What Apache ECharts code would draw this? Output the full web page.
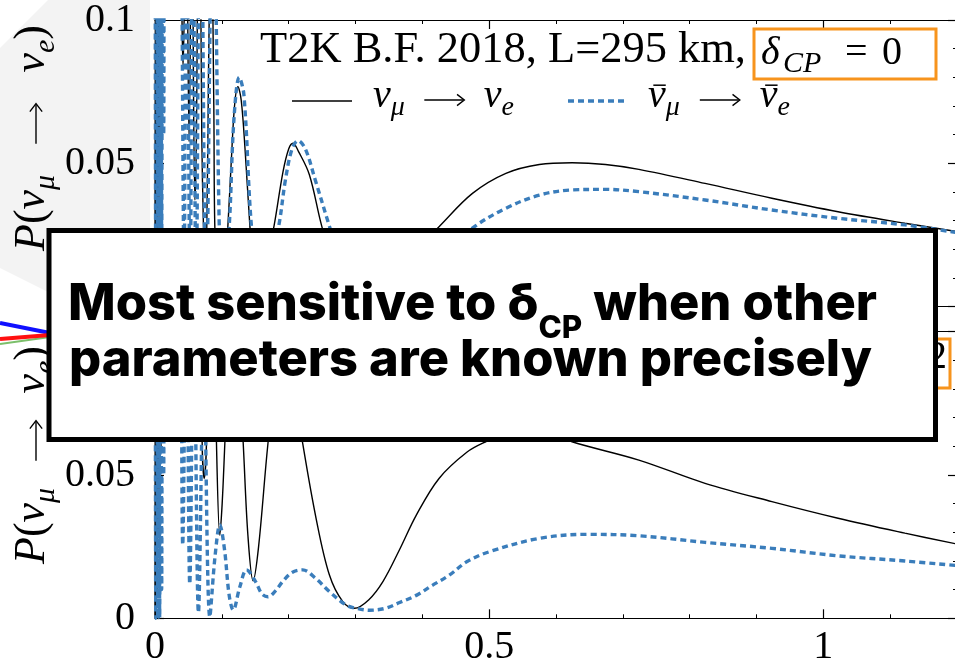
<!DOCTYPE html>
<html><head><meta charset="utf-8">
<script src="https://cdn.jsdelivr.net/npm/echarts@6/dist/echarts.min.js"></script>
<style>html,body{margin:0;padding:0;background:#fff}#c{width:955px;height:670px}</style>
</head><body><div id="c"></div>
<script>
// ---------- data ----------
const X_MIN = 0, X_MAX = 1.2;
const Y_MIN = 0, Y_MAX = 0.1;
const X_TICK_LABELS = {0: '0', 0.5: '0.5', 1: '1'};
const Y_TICK_LABELS = {0: '0', 0.05: '0.05', 0.1: '0.1'};

// top panel, delta_CP = 0, nu_mu -> nu_e (solid black)
const TOP_NU = [[0,0.00],[0.0015,0.20],[0.003,0.00],[0.0045,0.20],[0.006,0.02],[0.0075,0.20],[0.009,0.05],[0.0105,0.22],[0.012,0.10],[0.014,0.25],[0.018,0.15],[0.022,0.30],[0.026,0.16],[0.030,0.28],[0.034,0.14],[0.038,0.22],[0.040,0.11],[0.042,0.0837],[0.044,0.11],[0.0465,0.20],[0.049,0.10],[0.051,0.0575],[0.053,0.10],[0.055,0.19],[0.0575,0.08],[0.0597,0.0372],[0.062,0.06],[0.066,0.18],[0.070,0.06],[0.0725,0.028],[0.0745,0.016],[0.0775,0.028],[0.080,0.08],[0.084,0.14],[0.088,0.07],[0.0895,0.028],[0.094,0.008],[0.099,0.004],[0.104,0.012],[0.109,0.028],[0.114,0.05],[0.119,0.07],[0.124,0.0767],[0.129,0.072],[0.135,0.054],[0.142,0.028],[0.148,0.010],[0.155,0.003],[0.163,0.010],[0.172,0.022],[0.178,0.028],[0.1915,0.047],[0.200,0.055],[0.2065,0.057],[0.215,0.054],[0.231,0.046],[0.249,0.0285],[0.270,0.012],[0.290,0.004],[0.310,0.002],[0.330,0.004],[0.360,0.011],[0.400,0.022],[0.425,0.0279],[0.475,0.0395],[0.525,0.0465],[0.575,0.0496],[0.624,0.0502],[0.674,0.0496],[0.724,0.0479],[0.823,0.0430],[0.923,0.0378],[1.022,0.0331],[1.122,0.0291],[1.200,0.0262]];
// top panel, delta_CP = 0, anti-nu (dotted blue)
const TOP_NUBAR = [[0,0.20],[0.0012,0.0],[0.0025,0.20],[0.004,0.0],[0.0055,0.20],[0.007,0.0],[0.0085,0.18],[0.010,0.02],[0.0115,0.20],[0.013,0.06],[0.015,0.25],[0.020,0.16],[0.025,0.30],[0.030,0.15],[0.035,0.26],[0.040,0.12],[0.0435,0.012],[0.047,0.15],[0.0525,0.006],[0.0565,0.16],[0.0615,0.004],[0.068,0.18],[0.0765,0.003],[0.087,0.15],[0.101,0.002],[0.111,0.028],[0.118,0.065],[0.126,0.0800],[0.133,0.074],[0.1443,0.028],[0.158,0.002],[0.170,0.014],[0.185,0.028],[0.195,0.044],[0.205,0.055],[0.214,0.0579],[0.225,0.055],[0.240,0.044],[0.261,0.028],[0.285,0.010],[0.310,0.003],[0.330,0.001],[0.360,0.003],[0.400,0.010],[0.440,0.020],[0.478,0.0279],[0.525,0.0343],[0.575,0.0389],[0.624,0.0407],[0.674,0.0409],[0.724,0.0401],[0.823,0.0372],[0.923,0.0337],[1.022,0.0308],[1.122,0.0285],[1.200,0.0258]];
// bottom panel, nu (solid black)
const BOT_NU = [[0,0.00],[0.0015,0.20],[0.003,0.01],[0.0045,0.22],[0.006,0.03],[0.0075,0.20],[0.009,0.06],[0.0105,0.22],[0.012,0.12],[0.015,0.28],[0.020,0.18],[0.025,0.32],[0.030,0.17],[0.035,0.28],[0.040,0.13],[0.044,0.10],[0.048,0.22],[0.052,0.09],[0.056,0.20],[0.061,0.075],[0.066,0.20],[0.0706,0.061],[0.0736,0.0488],[0.077,0.061],[0.081,0.13],[0.085,0.15],[0.089,0.11],[0.092,0.061],[0.097,0.029],[0.1005,0.040],[0.1045,0.061],[0.111,0.095],[0.118,0.105],[0.125,0.090],[0.132,0.061],[0.139,0.029],[0.1468,0.0131],[0.155,0.025],[0.169,0.061],[0.180,0.082],[0.195,0.090],[0.210,0.078],[0.221,0.061],[0.241,0.0349],[0.261,0.0151],[0.281,0.0058],[0.2985,0.0035],[0.320,0.0065],[0.341,0.0128],[0.366,0.024],[0.391,0.036],[0.425,0.0488],[0.467,0.058],[0.495,0.0616],[0.530,0.0650],[0.560,0.0660],[0.590,0.0650],[0.624,0.0616],[0.724,0.0552],[0.823,0.0471],[0.923,0.0407],[1.022,0.0349],[1.122,0.0297],[1.200,0.0259]];
// bottom panel, anti-nu (dotted blue)
const BOT_NUBAR = [[0,0.20],[0.0012,0.0],[0.0025,0.20],[0.004,0.0],[0.0055,0.20],[0.007,0.0],[0.0085,0.20],[0.010,0.01],[0.0115,0.20],[0.013,0.05],[0.015,0.25],[0.020,0.15],[0.025,0.30],[0.030,0.15],[0.035,0.25],[0.039,0.12],[0.0415,0.0256],[0.047,0.12],[0.052,0.012],[0.058,0.11],[0.065,0.002],[0.073,0.09],[0.082,0.0005],[0.090,0.022],[0.097,0.0326],[0.104,0.024],[0.111,0.008],[0.117,0.0029],[0.127,0.011],[0.137,0.0169],[0.150,0.013],[0.160,0.0085],[0.169,0.0075],[0.180,0.0095],[0.191,0.0128],[0.205,0.0160],[0.221,0.0169],[0.240,0.0140],[0.261,0.0093],[0.286,0.0046],[0.301,0.0035],[0.321,0.0028],[0.345,0.0035],[0.366,0.0055],[0.391,0.0080],[0.415,0.0115],[0.440,0.0150],[0.467,0.0198],[0.500,0.0232],[0.575,0.0279],[0.649,0.0293],[0.724,0.0288],[0.823,0.0265],[0.923,0.0244],[1.022,0.0218],[1.122,0.0200],[1.200,0.0184]];

const TITLE_TEXT = 'T2K B.F. 2018, L=295 km,';
const BOX_LINE1 = ['Most sensitive to δ', 'CP', ' when other'];
const BOX_LINE2 = 'parameters are known precisely';

// ---------- layout helpers ----------
const SERIF = '"Liberation Serif", "DejaVu Serif", serif';
const SANS = 'Inter, "Open Sans", Lato, sans-serif';
const cv = document.createElement('canvas').getContext('2d');
function tw(t, font) { cv.font = font; return cv.measureText(t).width; }
function fnt(p) { return (p.italic ? 'italic ' : '') + (p.weight || 'normal') + ' ' + p.size + 'px ' + (p.family || SERIF); }
function pw(p) { return p.arrow ? p.arrow : tw(p.t, fnt(p)); }
function runs(x0, b, parts, z, mid) {
  const els = []; let x = x0;
  parts.forEach(p => {
    x += (p.pre || 0);
    const w = pw(p);
    if (p.arrow) {
      const ay = b - p.size * 0.25, h = p.size * 0.14;
      els.push({type: 'line', z: z, silent: true, shape: {x1: x, y1: ay, x2: x + w - 1, y2: ay}, style: {stroke: '#000', lineWidth: 1.4}});
      els.push({type: 'polyline', z: z, silent: true, shape: {points: [[x + w - h * 1.3, ay - h], [x + w, ay], [x + w - h * 1.3, ay + h]]}, style: {stroke: '#000', lineWidth: 1.4, fill: 'none'}});
    } else {
      els.push({type: 'text', x: x, y: b + (p.dy || 0) - (mid || 0.34) * p.size, z: z, silent: true,
        style: {text: p.t, font: fnt(p), fill: p.fill || '#000', align: 'left', verticalAlign: 'middle', textAlign: 'left', textVerticalAlign: 'middle'}});
      if (p.bar) {
        const by = b - p.size * 0.62;
        els.push({type: 'line', z: z, silent: true, shape: {x1: x + w * 0.3, y1: by, x2: x + w * 1.0, y2: by}, style: {stroke: '#000', lineWidth: 1.5}});
      }
    }
    x += w + (p.post || 0);
  });
  return {els: els, end: x};
}
function width(parts) { return parts.reduce((s, p) => s + pw(p) + (p.pre || 0) + (p.post || 0), 0); }
function fitArrowGaps(parts, target) {
  const w = width(parts); const g = Math.max(2, (target - w) / 2);
  parts.forEach(p => { if (p.arrow) { p.pre = g; p.post = g; } });
  return parts;
}

const graphics = [];
const Z_BG = -5, Z_TXT = 5, Z_BOX = 100;

// faint watermark shape at the left (slide background)
graphics.push({type: 'polygon', z: Z_BG - 1, silent: true, shape: {points: [[0, 48], [48, 0], [150, 0], [150, 330], [48, 292], [0, 268]]}, style: {fill: '#f3f3f3'}});

// stray lines from the neighbouring figure (left edge)
graphics.push({type: 'line', z: Z_BG, shape: {x1: 0, y1: 323, x2: 50, y2: 333}, style: {stroke: '#1010ff', lineWidth: 4}});
graphics.push({type: 'line', z: Z_BG, shape: {x1: 0, y1: 344, x2: 50, y2: 337}, style: {stroke: '#7bbf6a', lineWidth: 2}});
graphics.push({type: 'line', z: Z_BG, shape: {x1: 0, y1: 339, x2: 50, y2: 335}, style: {stroke: '#ff1010', lineWidth: 4}});

// y-axis titles (rotated)
function yTitle(bx, by, len) {
  const S = 44, s = 30;
  const parts = fitArrowGaps([
    {t: 'P', size: S, italic: true}, {t: '(', size: S}, {t: 'ν', size: S, italic: true},
    {t: 'μ', size: s, italic: true, dy: 9}, {arrow: 40, size: S}, {t: 'ν', size: S, italic: true},
    {t: 'e', size: s, italic: true, dy: 9}, {t: ')', size: S}], len);
  const r = runs(0, 0, parts, Z_TXT);
  graphics.push({type: 'group', x: bx, y: by, rotation: Math.PI / 2, z: Z_TXT, children: r.els});
}
yTitle(47, 251, 226);
yTitle(47, 564, 218);

// top annotation
(function () {
  const parts = [{t: TITLE_TEXT, size: 38}];
  const w = width(parts); parts[0].size = 38 * 486 / w;
  runs(260, 65, parts, Z_TXT).els.forEach(e => graphics.push(e));
  runs(761, 67, [{t: 'δ', size: 40, italic: true}], Z_TXT).els.forEach(e => graphics.push(e));
  runs(783, 74, [{t: 'CP', size: 30, italic: true}], Z_TXT).els.forEach(e => graphics.push(e));
  runs(845, 67, [{t: '=', size: 40}], Z_TXT).els.forEach(e => graphics.push(e));
  runs(882, 67, [{t: '0', size: 40}], Z_TXT).els.forEach(e => graphics.push(e));
  graphics.push({type: 'rect', z: Z_TXT, shape: {x: 754, y: 29, width: 182, height: 50}, style: {fill: 'none', stroke: '#f7941d', lineWidth: 3}});
  // legend
  graphics.push({type: 'line', z: Z_TXT, shape: {x1: 292, y1: 101, x2: 352, y2: 101}, style: {stroke: '#000', lineWidth: 1.5}});
  const l1 = fitArrowGaps([{t: 'ν', size: 40, italic: true}, {t: 'μ', size: 28, italic: true, dy: 7}, {arrow: 40, size: 40}, {t: 'ν', size: 40, italic: true}, {t: 'e', size: 28, italic: true, dy: 7}], 141);
  runs(373, 110, l1, Z_TXT).els.forEach(e => graphics.push(e));
  graphics.push({type: 'line', z: Z_TXT, shape: {x1: 568, y1: 101, x2: 624, y2: 101}, style: {stroke: '#3a7dbb', lineWidth: 3.4, lineDash: [6, 4]}});
  const l2 = fitArrowGaps([{t: 'ν', size: 40, italic: true, bar: true}, {t: 'μ', size: 28, italic: true, dy: 7}, {arrow: 40, size: 40}, {t: 'ν', size: 40, italic: true, bar: true}, {t: 'e', size: 28, italic: true, dy: 7}], 142);
  runs(648, 110, l2, Z_TXT).els.forEach(e => graphics.push(e));
})();

// bottom annotation (mostly hidden behind the overlay box)
(function () {
  const parts = [{t: TITLE_TEXT + ' ', size: 38}, {t: 'δ', size: 40, italic: true}, {t: 'CP', size: 30, italic: true, dy: 7, post: 12}, {t: '= −π/2', size: 40}];
  const w = width(parts);
  runs(947 - w, 371, parts, Z_TXT).els.forEach(e => graphics.push(e));
  graphics.push({type: 'rect', z: Z_TXT, shape: {x: 720, y: 339, width: 230, height: 49}, style: {fill: 'none', stroke: '#f7941d', lineWidth: 3}});
})();

// overlay box
(function () {
  graphics.push({type: 'rect', z: Z_BOX, shape: {x: 49, y: 230.5, width: 886.5, height: 209}, style: {fill: '#fff', stroke: '#000', lineWidth: 5}});
  const base = 46;
  const l2 = [{t: BOX_LINE2, size: base, weight: 800, family: SANS}];
  const S = base * 803 / width(l2);
  l2[0].size = S;
  const l1 = [{t: BOX_LINE1[0], size: S, weight: 800, family: SANS},
              {t: BOX_LINE1[1], size: S * 0.62, weight: 800, family: SANS, dy: S * 0.33},
              {t: BOX_LINE1[2], size: S, weight: 800, family: SANS}];
  runs(68, 323, l1, Z_BOX + 1, 0.36).els.forEach(e => graphics.push(e));
  runs(69, 379, l2, Z_BOX + 1, 0.36).els.forEach(e => graphics.push(e));
})();

// ---------- axes ----------
function lab(map) { return v => { for (const k in map) { if (Math.abs(v - Number(k)) < 1e-9) return map[k]; } return ''; }; }
const tickStyle = {color: '#000', width: 1.2};
const labelFont = {fontFamily: SERIF, fontSize: 40, color: '#000'};
function xAx(g, pos, showLabel) {
  return {gridIndex: g, type: 'value', position: pos, min: X_MIN, max: X_MAX, interval: 0.5,
    axisLine: {show: true, onZero: false, lineStyle: {color: '#000', width: 1.2}},
    axisTick: {show: true, inside: true, length: 9, lineStyle: tickStyle},
    minorTick: {show: true, splitNumber: 5, length: 4, lineStyle: {color: '#000', width: 1}},
    splitLine: {show: false}, minorSplitLine: {show: false},
    axisLabel: Object.assign({show: showLabel, margin: 9, formatter: lab(X_TICK_LABELS), showMaxLabel: false}, labelFont)};
}
function yAx(g, pos, showLabel) {
  return {gridIndex: g, type: 'value', position: pos, min: Y_MIN, max: Y_MAX, interval: 0.05,
    axisLine: {show: true, onZero: false, lineStyle: {color: '#000', width: 1.2}},
    axisTick: {show: true, inside: true, length: 9, lineStyle: tickStyle},
    minorTick: {show: true, splitNumber: 5, length: 4, lineStyle: {color: '#000', width: 1}},
    splitLine: {show: false}, minorSplitLine: {show: false},
    axisLabel: Object.assign({show: showLabel, margin: 20, formatter: lab(Y_TICK_LABELS)}, labelFont)};
}

const blueStyle = {color: '#3a7dbb', width: 3.4, type: [6, 4]};
const blackStyle = {color: '#000', width: 1.4};
function ser(data, xi, yi, style, z) {
  return {type: 'line', xAxisIndex: xi, yAxisIndex: yi, data: data, showSymbol: false, symbol: 'none',
    smooth: 0.35, clip: true, lineStyle: style, z: z, silent: true, animation: false};
}

const chart = echarts.init(document.getElementById('c'), null, {renderer: 'canvas'});
chart.setOption({
  animation: false,
  backgroundColor: '#fff',
  grid: [
    {left: 155, top: 20, width: 802, height: 286.6, containLabel: false, outerBoundsMode: 'none'},
    {left: 155, top: 331.7, width: 802, height: 286.6, containLabel: false, outerBoundsMode: 'none'}
  ],
  xAxis: [xAx(0, 'bottom', true), xAx(0, 'top', false), xAx(1, 'bottom', true), xAx(1, 'top', false)],
  yAxis: [yAx(0, 'left', true), yAx(0, 'right', false), yAx(1, 'left', true), yAx(1, 'right', false)],
  series: [
    ser(TOP_NU, 0, 0, blackStyle, 2),
    ser(TOP_NUBAR, 0, 0, blueStyle, 3),
    ser(BOT_NU, 2, 2, blackStyle, 2),
    ser(BOT_NUBAR, 2, 2, blueStyle, 3)
  ],
  graphic: {elements: graphics}
});
</script></body></html>
